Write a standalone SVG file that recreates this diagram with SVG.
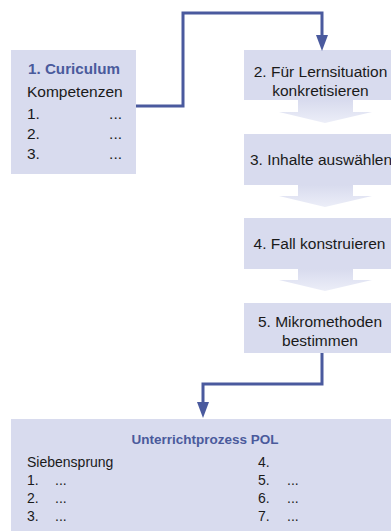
<svg xmlns="http://www.w3.org/2000/svg" width="391" height="531" viewBox="0 0 391 531">
<defs>
<linearGradient id="ag" x1="0" y1="0" x2="0" y2="1">
<stop offset="0" stop-color="#d8dbee"/>
<stop offset="1" stop-color="#eceef8"/>
</linearGradient>
</defs>
<style>
.box{fill:#d8dbee}
.t{font-family:"Liberation Sans",Arial,sans-serif;font-size:15.5px;fill:#1a1a1a}
.s{font-size:14px}
.h{font-family:"Liberation Sans",Arial,sans-serif;font-size:15.2px;font-weight:bold;fill:#4a5a9c}
.hs{font-size:13.5px}
.c{text-anchor:middle}
.e{text-anchor:end}
.conn{fill:none;stroke:#4a5a9e;stroke-width:3}
.tip{fill:#4a5a9e}
.ba{fill:url(#ag)}
</style>
<g id="node1">
<rect class="box" x="11" y="50" width="125" height="124"/>
<text class="h" x="28" y="74">1. Curiculum</text>
<text class="t" x="27" y="97">Kompetenzen</text>
<text class="t" x="27" y="119">1.</text><text class="t e" x="122" y="119">...</text>
<text class="t" x="27" y="139">2.</text><text class="t e" x="122" y="139">...</text>
<text class="t" x="27" y="159">3.</text><text class="t e" x="122" y="159">...</text>
</g>
<g id="node2">
<rect class="box" x="244" y="50" width="147" height="50"/>
<text class="t c" x="320.5" y="77">2. Für Lernsituation</text>
<text class="t c" x="320.5" y="96">konkretisieren</text>
</g>
<g id="node3">
<rect class="box" x="244" y="134" width="147" height="51"/>
<text class="t c" x="321" y="165">3. Inhalte auswählen</text>
</g>
<g id="node4">
<rect class="box" x="244" y="218" width="147" height="51"/>
<text class="t c" x="319.5" y="249">4. Fall konstruieren</text>
</g>
<g id="node5">
<rect class="box" x="244" y="303" width="147" height="50"/>
<text class="t c" x="320" y="327">5. Mikromethoden</text>
<text class="t c" x="320" y="346">bestimmen</text>
</g>
<g id="node6">
<rect class="box" x="11" y="419" width="380" height="112"/>
<text class="h hs c" x="205" y="444">Unterrichtprozess POL</text>
<text class="t s" x="27" y="467">Siebensprung</text>
<text class="t s" x="27" y="485">1.</text><text class="t s" x="55" y="485">...</text>
<text class="t s" x="27" y="503">2.</text><text class="t s" x="55" y="503">...</text>
<text class="t s" x="27" y="521">3.</text><text class="t s" x="55" y="521">...</text>
<text class="t s" x="258" y="467">4.</text>
<text class="t s" x="258" y="485">5.</text><text class="t s" x="287" y="485">...</text>
<text class="t s" x="258" y="503">6.</text><text class="t s" x="287" y="503">...</text>
<text class="t s" x="258" y="521">7.</text><text class="t s" x="287" y="521">...</text>
</g>
<g id="connectors">
<path class="ba" d="M298,100 H353 V112 H372 L325,123 L279,112 H298 Z"/>
<path class="ba" d="M298,185 H353 V196 H372 L325,207 L279,196 H298 Z"/>
<path class="ba" d="M298,269 H353 V280 H372 L325,291 L279,280 H298 Z"/>
<path class="conn" d="M136,106 H183 V13 H322 V36"/>
<path class="tip" d="M316,35 L328,35 L322,51 Z"/>
<path class="conn" d="M322,353 V384 H203 V403"/>
<path class="tip" d="M197,402 L209,402 L203,418 Z"/>
</g>
</svg>
